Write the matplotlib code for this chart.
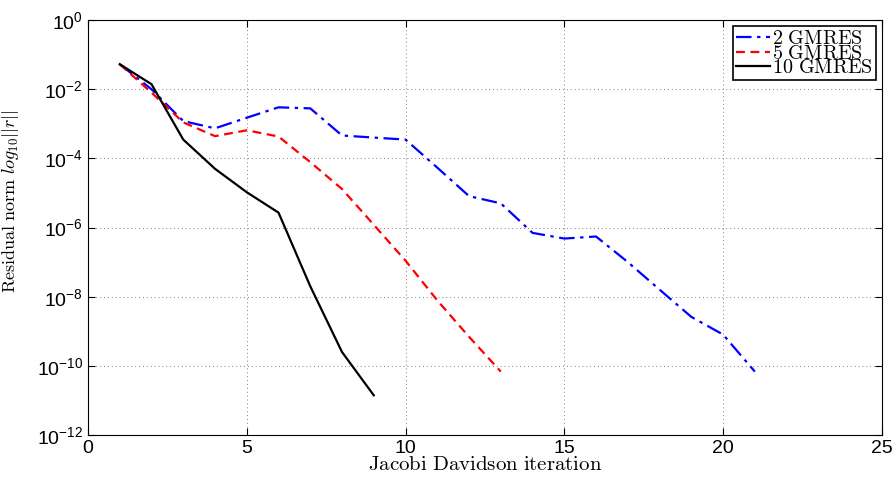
import matplotlib
matplotlib.use("Agg")
import matplotlib.pyplot as plt

plt.rcParams['font.family'] = ['Liberation Sans', 'DejaVu Sans']
plt.rcParams['mathtext.fontset'] = 'custom'
plt.rcParams['mathtext.rm'] = 'Liberation Sans'
plt.rcParams['mathtext.it'] = 'Liberation Sans:italic'

# residual norms per Jacobi Davidson iteration
it_2 = list(range(1, 22))
res_2 = [5.3e-2, 1.0e-2, 1.2e-3, 7.4e-4, 1.5e-3, 3.0e-3, 2.8e-3, 4.6e-4,
         4.0e-4, 3.5e-4, 5.4e-5, 8.1e-6, 5.0e-6, 7.0e-7, 4.8e-7, 5.5e-7,
         1.0e-7, 1.6e-8, 2.6e-9, 8.0e-10, 6.8e-11]
it_5 = list(range(1, 14))
res_5 = [5.3e-2, 8.0e-3, 1.1e-3, 4.4e-4, 6.5e-4, 4.3e-4, 7.8e-5, 1.3e-5,
         1.2e-6, 1.1e-7, 7.8e-9, 6.9e-10, 6.8e-11]
it_10 = list(range(1, 10))
res_10 = [5.3e-2, 1.4e-2, 3.5e-4, 5.0e-5, 1.05e-5, 2.7e-6, 2.0e-8,
          2.5e-10, 1.4e-11]

xticks = [0, 5, 10, 15, 20, 25]
yticks = [1e-12, 1e-10, 1e-8, 1e-6, 1e-4, 1e-2, 1e0]
ylabels = ['$10^{-12}$', '$10^{-10}$', '$10^{-8}$', '$10^{-6}$',
           '$10^{-4}$', '$10^{-2}$', '$10^{0}$']

fig = plt.figure(figsize=(8.96, 4.79), dpi=100)
ax = fig.add_axes([0.0982, 0.092, 0.886, 0.866])

ax.semilogy(it_2, res_2, color='blue', lw=1.6, label='2 GMRES',
            dashes=(7, 2.5, 1.5, 2.5))
ax.semilogy(it_5, res_5, '--', color='red', lw=1.6, label='5 GMRES',
            dashes=(4, 2.5))
ax.semilogy(it_10, res_10, '-', color='black', lw=1.6, label='10 GMRES')

ax.set_xlim(0, 25)
ax.set_ylim(1e-12, 1e0)
ax.set_xticks(xticks)
ax.set_yticks(yticks)
ax.set_yticklabels(ylabels)
ax.minorticks_off()
ax.tick_params(direction='in', top=True, right=True, labelsize=14, length=5)
ax.grid(True, linestyle=(0, (1, 3)), color='#808080', lw=0.7)

xl = ax.set_xlabel(r'$\mathrm{Jacobi\ Davidson\ iteration}$', fontsize=15, labelpad=-1)
yl = ax.set_ylabel(r'$\mathrm{Residual\ norm}\ log_{10}||r||$', fontsize=13, labelpad=2)
xl.set_math_fontfamily('cm')
yl.set_math_fontfamily('cm')
ax.yaxis.set_label_coords(-0.085, 0.564)

leg = ax.legend(loc='upper right', fontsize=14.5, fancybox=False, framealpha=1,
                edgecolor='black', borderpad=0.15, labelspacing=-0.22,
                handlelength=1.7, handletextpad=0.1, borderaxespad=0.3)
leg.get_frame().set_linewidth(1.2)
for t in leg.get_texts():
    t.set_text('$\\mathrm{' + t.get_text().replace(' ', '\\ ') + '}$')
    t.set_math_fontfamily('cm')

fig.savefig('out.png', dpi=100)
